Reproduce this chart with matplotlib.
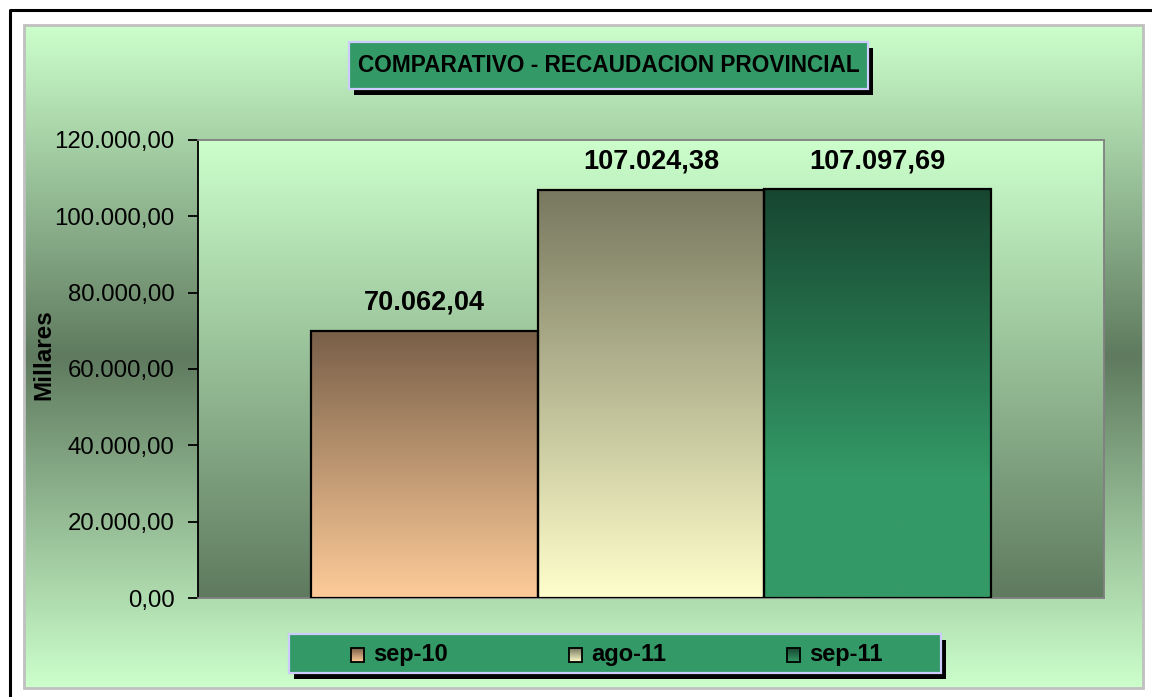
import numpy as np
import matplotlib
matplotlib.use("Agg")
import matplotlib.pyplot as plt
from matplotlib.patches import Rectangle
from matplotlib.colors import to_rgb

# ---------------- data ----------------
title = "COMPARATIVO - RECAUDACION PROVINCIAL"
series = ["sep-10", "ago-11", "sep-11"]
values = [70062.04, 107024.38, 107097.69]
value_labels = ["70.062,04", "107.024,38", "107.097,69"]
ytick_values = [0, 20000, 40000, 60000, 80000, 100000, 120000]
ytick_labels = ["0,00", "20.000,00", "40.000,00", "60.000,00",
                "80.000,00", "100.000,00", "120.000,00"]
ylabel = "Millares"

# gradient colours (top, bottom) for each series
bar_top = ["#785f48", "#77785f", "#174630"]
bar_bot = ["#ffcc99", "#ffffcc", "#339966"]

plt.rcParams['font.family'] = ['Liberation Sans', 'DejaVu Sans']

W, H = 1152, 697
fig = plt.figure(figsize=(W / 100, H / 100), dpi=100)
fig.patch.set_facecolor("white")


def grad(stops, n=256):
    pos = np.array([s[0] for s in stops])
    cols = np.array([to_rgb(s[1]) for s in stops])
    t = np.linspace(0, 1, n)
    arr = np.stack([np.interp(t, pos, cols[:, k]) for k in range(3)], axis=1)
    return arr[:, None, :]


# ---------- background axes in pixel coordinates ----------
bg = fig.add_axes([0, 0, 1, 1])
bg.set_xlim(0, W)
bg.set_ylim(H, 0)
bg.axis("off")

# outer black frame
bg.plot([10, 10, W + 10], [H + 10, 10, 10], color="black", lw=2.2,
        solid_capstyle="butt")

# chart area gradient
cx0, cy0, cx1, cy1 = 24, 25, 1143, 688
bg.imshow(grad([(0, "#ccffcc"), (0.5, "#5f7a5f"), (1, "#ccffcc")]),
          extent=(cx0, cx1, cy1, cy0), aspect="auto", interpolation="bilinear",
          zorder=1)
bg.add_patch(Rectangle((cx0, cy0), cx1 - cx0, cy1 - cy0, fill=False,
                       edgecolor="#c0c0c0", lw=2, zorder=2))


def shadow_box(x0, y0, x1, y1, dx=5, dy=6):
    bg.add_patch(Rectangle((x0 + dx, y0 + dy), x1 - x0, y1 - y0,
                           facecolor="black", edgecolor="none", zorder=3))
    bg.add_patch(Rectangle((x0, y0), x1 - x0, y1 - y0, facecolor="#339966",
                           edgecolor="#ccccff", lw=1.6, zorder=4))


# title box
shadow_box(349, 42, 868, 89)
bg.text((349 + 868) / 2, 66, title, ha="center", va="center",
        fontsize=16.3, fontweight="bold", color="black", zorder=5)

# legend box
shadow_box(289, 634, 941, 673)
leg_marker_x = [351, 569, 787]
for i, name in enumerate(series):
    mx = leg_marker_x[i]
    bg.imshow(grad([(0, bar_top[i]), (1, bar_bot[i])]),
              extent=(mx, mx + 13, 662, 648), aspect="auto", zorder=5)
    bg.add_patch(Rectangle((mx, 648), 13, 14, fill=False, edgecolor="black",
                           lw=1.3, zorder=6))
    bg.text(mx + 22, 655, name, ha="left", va="center", fontsize=17,
            fontweight="bold", color="black", zorder=6)

# y label
bg.text(44, 355, ylabel, rotation=90, ha="center", va="center",
        fontsize=17.5, fontweight="bold", zorder=5)

# ---------- plot axes ----------
px0, py0, px1, py1 = 198, 140, 1104, 598
ax = fig.add_axes([px0 / W, 1 - py1 / H, (px1 - px0) / W, (py1 - py0) / H])
ax.patch.set_visible(False)
ax.imshow(grad([(0, "#ccffcc"), (1, "#5f7a5f")]), extent=(0, 1, 0, 1),
          transform=ax.transAxes, aspect="auto", zorder=0)

x = np.arange(len(series))
bars = ax.bar(x, values, width=1.0, facecolor="none", edgecolor="black",
              lw=1.6, zorder=3)
for i, b in enumerate(bars):
    bx, bw, bh = b.get_x(), b.get_width(), b.get_height()
    stops = [(0, bar_top[i]), (1, bar_bot[i])]
    if i == 2:
        stops = [(0, bar_top[i]), (0.7, bar_bot[i]), (1, bar_bot[i])]
    im = ax.imshow(grad(stops), extent=(bx, bx + bw, 0, bh), aspect="auto",
                   zorder=2)
    im.set_clip_path(b)
    ax.annotate(value_labels[i], (b.get_x() + bw / 2, bh),
                xytext=(0, 28), textcoords="offset pixels",
                ha="center", va="center", fontsize=19.5, fontweight="bold")

ax.set_xlim(-1, 3)
ax.set_ylim(0, 120000)
ax.set_yticks(ytick_values)
ax.set_yticklabels(ytick_labels, fontsize=17.3)
ax.set_xticks([])
ax.tick_params(axis="y", direction="out", length=7, width=1.3, pad=10,
               colors="black")
for s in ["top", "right", "bottom"]:
    ax.spines[s].set_color("#808080")
    ax.spines[s].set_linewidth(1.3)
ax.spines["left"].set_color("black")
ax.spines["left"].set_linewidth(1.3)

fig.savefig("out.png", dpi=100)
